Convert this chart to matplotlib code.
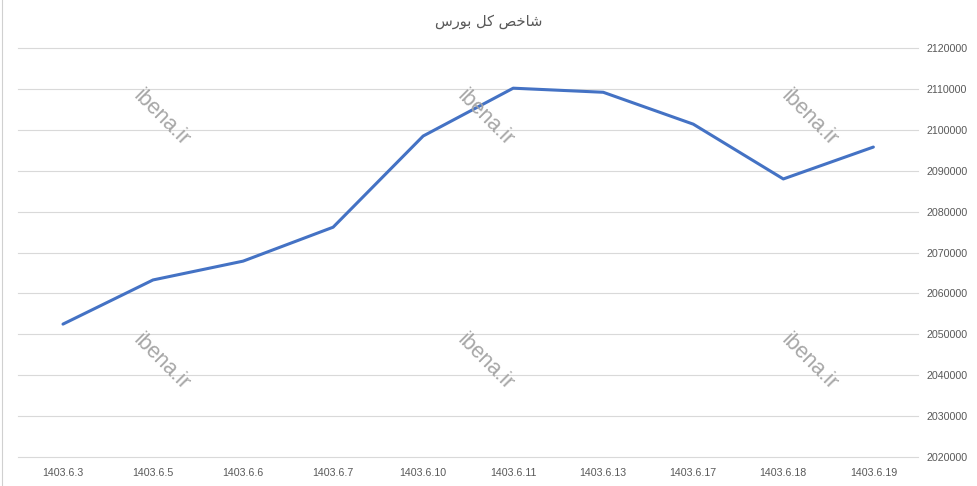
import matplotlib.pyplot as plt
from matplotlib.lines import Line2D

# data
dates = ['1403.6.3', '1403.6.5', '1403.6.6', '1403.6.7', '1403.6.10',
         '1403.6.11', '1403.6.13', '1403.6.17', '1403.6.18', '1403.6.19']
index_values = [2052500, 2063300, 2067900, 2076200, 2098500,
                2110200, 2109200, 2101400, 2088000, 2095800]
y_ticks = list(range(2020000, 2120001, 10000))

# "شاخص کل بورس" in shaped presentation forms, visual order (matplotlib has no Arabic shaping)
title = '\uFEB1\uFEAD\uFEEE\uFE91 \uFEDE\uFB90 \uFEBA\uFEA7\uFE8E\uFEB7'
watermark = 'ibena.ir'

text_color = '#595959'
grid_color = '#d9d9d9'
line_color = '#4472C4'

fig = plt.figure(figsize=(9.77, 4.86), dpi=100, facecolor='white')
ax = fig.add_axes([0.0184, 0.0597, 0.9216, 0.8413])

x = range(len(dates))
ax.plot(x, index_values, color=line_color, linewidth=2.2, solid_capstyle='round', zorder=3)

ax.set_xlim(-0.5, len(dates) - 0.5)
ax.set_ylim(y_ticks[0], y_ticks[-1])
ax.set_xticks(list(x))
ax.set_xticklabels(dates)
ax.set_yticks(y_ticks)
ax.set_yticklabels([str(v) for v in y_ticks])
ax.yaxis.tick_right()
ax.tick_params(axis='both', length=0, labelsize=7.7, labelcolor=text_color)
ax.tick_params(axis='x', pad=8)
ax.tick_params(axis='y', pad=6)
for lab in ax.get_xticklabels() + ax.get_yticklabels():
    lab.set_family('Liberation Sans')

ax.grid(axis='y', color=grid_color, linewidth=0.8)
for gl in ax.get_ygridlines():
    gl.set_clip_on(False)
ax.set_axisbelow(True)
for s in ax.spines.values():
    s.set_visible(False)

fig.text(0.5, 0.955, title, ha='center', va='center', fontsize=10.5,
         color=text_color, family=['DejaVu Sans'])

# watermarks
for wx in (0.165, 0.497, 0.828):
    for wy in (0.757, 0.255):
        fig.text(wx, wy, watermark, ha='center', va='center', rotation=-45,
                 fontsize=15.5, color='#a6a6a6', family='Liberation Sans', zorder=5)

# left border of the sheet
fig.add_artist(Line2D([0.002, 0.002], [0, 1], color='#d0d0d0', linewidth=0.8))

plt.savefig('out.png', dpi=100, facecolor='white')
